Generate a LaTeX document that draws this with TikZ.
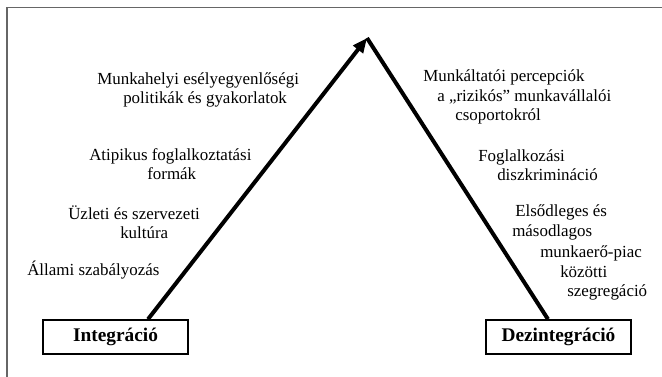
\documentclass[tikz,border=0pt]{standalone}
\usepackage{fontspec}
\setmainfont{Liberation Serif}
\usetikzlibrary{arrows.meta}

\tikzset{
  lbl/.style={anchor=base west, inner sep=0pt, font=\fontsize{12.7}{15}\selectfont},
  pole/.style={draw, line width=1.2pt, inner sep=0pt, minimum width=108.75pt, minimum height=25.5pt, font=\fontsize{14.5}{17}\selectfont\bfseries},
  leg/.style={line width=3pt}
}

\begin{document}
\begin{tikzpicture}[x=0.75pt,y=0.75pt,yscale=-1,xscale=1]
\useasboundingbox (0,0) rectangle (662,377);

%frame
\draw [color=black!60, line width=1.1pt] (7,377) -- (7,7.5) -- (662,7.5) ;

%apex of the triangle
\coordinate (apex) at (367,38);

%boxes
\node [pole] (integr) at (115.5,337) {Integráció};
\node [pole] (dezintegr) at (558.5,337) {Dezintegráció};

%legs
\draw [leg, -{Triangle[length=11pt,width=9pt]}] ([xshift=24.4pt]integr.north) -- (apex) ;
\draw [leg] (apex) -- ([xshift=-7.9pt]dezintegr.north) ;

% Text Node - left
\draw (97,85) node [lbl] (l1a) {Munkahelyi esélyegyenlőségi};
\draw (123,104) node [lbl] (l1b) {politikák és gyakorlatok};
\draw (89,161) node [lbl] (l2a) {Atipikus foglalkoztatási};
\draw (147,180) node [lbl] (l2b) {formák};
\draw (68,220) node [lbl] (l3a) {Üzleti és szervezeti};
\draw (120,239) node [lbl] (l3b) {kultúra};
\draw (27,276) node [lbl] (l4a) {Állami szabályozás};

% Text Node - right
\draw (423,82) node [lbl] (r1a) {Munkáltatói percepciók};
\draw (437,102) node [lbl] (r1b) {a „rizikós” munkavállalói};
\draw (455,121) node [lbl] (r1c) {csoportokról};
\draw (478,162) node [lbl] (r2a) {Foglalkozási};
\draw (497,181) node [lbl] (r2b) {diszkrimináció};
\draw (515,217) node [lbl] (r3a) {Elsődleges és};
\draw (512,237) node [lbl] (r3b) {másodlagos};
\draw (540,258) node [lbl] (r3c) {munkaerő-piac};
\draw (560,278) node [lbl] (r3d) {közötti};
\draw (567,297) node [lbl] (r3e) {szegregáció};

\end{tikzpicture}
\end{document}
